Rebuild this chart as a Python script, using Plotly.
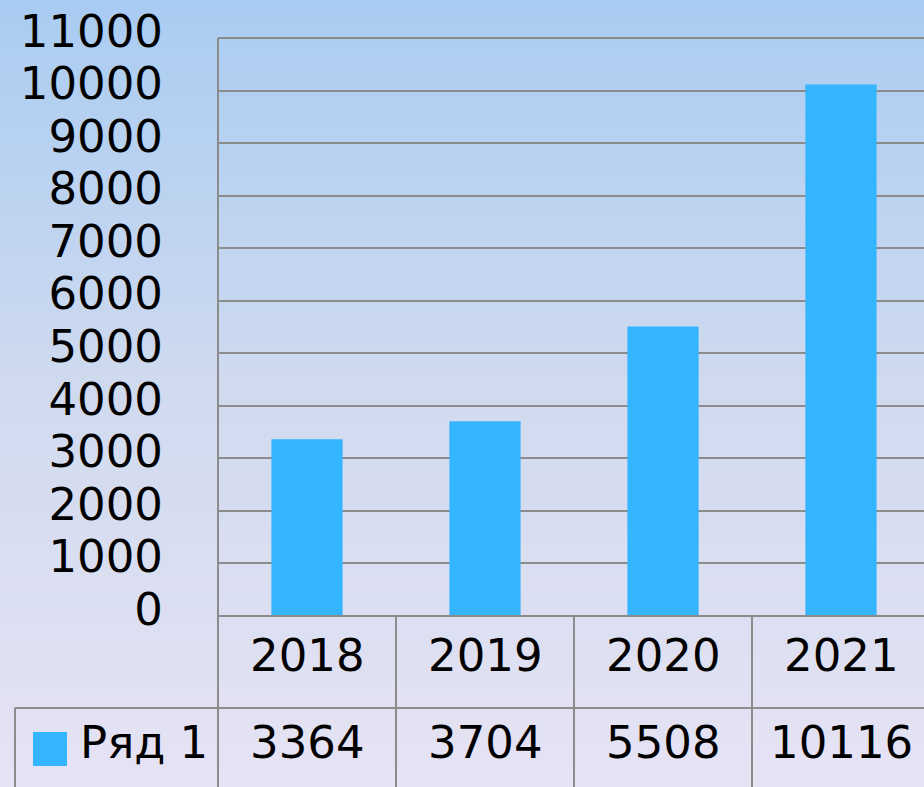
import plotly.graph_objects as go

categories = ["2018", "2019", "2020", "2021"]
values = [3364, 3704, 5508, 10116]
series_name = "Ряд 1"
y_ticks = list(range(0, 11001, 1000))

W, H = 924, 787
L, R, T, B = 218, 0, 38, 171
PW, PH = W - L - R, H - T - B
CAT_PX = 178
FONT = dict(family="DejaVu Sans", size=45, color="black")
LINE = dict(color="#8c8c8c", width=2)
BAR_COLOR = "#33b5ff"

def px_x(px):
    return (px - L) / PW

def px_y(py):
    return (H - B - py) / PH

fig = go.Figure()
fig.add_trace(go.Bar(x=categories, y=values, marker=dict(color=BAR_COLOR, line=dict(width=0)),
                     name=series_name, showlegend=False, hoverinfo="x+y"))

shapes = []
# background gradient
stops = [(0.0, (169, 204, 242)), (0.5, (208, 218, 239)), (1.0, (230, 227, 244))]
def grad(t):
    for (t0, c0), (t1, c1) in zip(stops[:-1], stops[1:]):
        if t <= t1:
            f = (t - t0) / (t1 - t0)
            return tuple(round(a + (b - a) * f) for a, b in zip(c0, c1))
    return stops[-1][1]
N = 90
for i in range(N):
    y0 = H * i / N
    y1 = H * (i + 1) / N + 1
    c = grad((i + 0.5) / N)
    shapes.append(dict(type="rect", xref="paper", yref="paper", layer="below",
                       x0=px_x(0), x1=px_x(W), y0=px_y(y1), y1=px_y(y0),
                       fillcolor="rgb(%d,%d,%d)" % c, line=dict(width=0)))

# table lines
bottom = px_y(H + 2)
shapes.append(dict(type="line", xref="paper", yref="paper", x0=0, x1=0, y0=1, y1=bottom, line=LINE))
for k in range(len(categories) - 1):
    shapes.append(dict(type="line", xref="x", yref="paper", x0=k + 0.5, x1=k + 0.5,
                       y0=0, y1=bottom, line=LINE))
shapes.append(dict(type="line", xref="paper", yref="paper", x0=px_x(15), x1=1.0,
                   y0=px_y(708), y1=px_y(708), line=LINE))
shapes.append(dict(type="line", xref="paper", yref="paper", x0=px_x(15), x1=px_x(15),
                   y0=px_y(708), y1=bottom, line=LINE))
shapes.append(dict(type="line", xref="paper", yref="paper", x0=0, x1=1.0,
                   y0=1, y1=1, line=LINE))
shapes.append(dict(type="line", xref="paper", yref="paper", x0=0, x1=1.0,
                   y0=0, y1=0, line=LINE))
# legend key
shapes.append(dict(type="rect", xref="paper", yref="paper", x0=px_x(33), x1=px_x(67),
                   y0=px_y(766), y1=px_y(732), fillcolor=BAR_COLOR, line=dict(width=0)))

annotations = []
for i, (c, v) in enumerate(zip(categories, values)):
    annotations.append(dict(x=i, xref="x", y=px_y(655), yref="paper", text=c,
                            showarrow=False, font=FONT, xanchor="center", yanchor="middle"))
    annotations.append(dict(x=i, xref="x", y=px_y(742), yref="paper", text=str(v),
                            showarrow=False, font=FONT, xanchor="center", yanchor="middle"))
annotations.append(dict(x=px_x(78), xref="paper", y=px_y(742), yref="paper", text=series_name,
                        showarrow=False, font=FONT, xanchor="left", yanchor="middle"))

fig.update_layout(
    width=W, height=H, autosize=False,
    margin=dict(l=L, r=R, t=T, b=B, pad=0),
    paper_bgcolor="rgba(0,0,0,0)", plot_bgcolor="rgba(0,0,0,0)",
    bargap=0.6,
    shapes=shapes, annotations=annotations,
    xaxis=dict(type="category", range=[-0.5, -0.5 + PW / CAT_PX], showticklabels=False,
               showgrid=False, zeroline=False, showline=False, fixedrange=True),
    yaxis=dict(range=[0, 11000], tickvals=y_ticks, ticktext=[str(t) for t in y_ticks],
               showgrid=True, gridcolor="#8c8c8c", gridwidth=2, zeroline=False,
               showline=False, ticks="", ticklabelstandoff=54, ticklabelshift=-7, tickfont=FONT),
    showlegend=False,
)

fig.write_html("out.html", config={"displayModeBar": False},
               post_script="document.body.style.margin='0';document.body.style.overflow='hidden';")
